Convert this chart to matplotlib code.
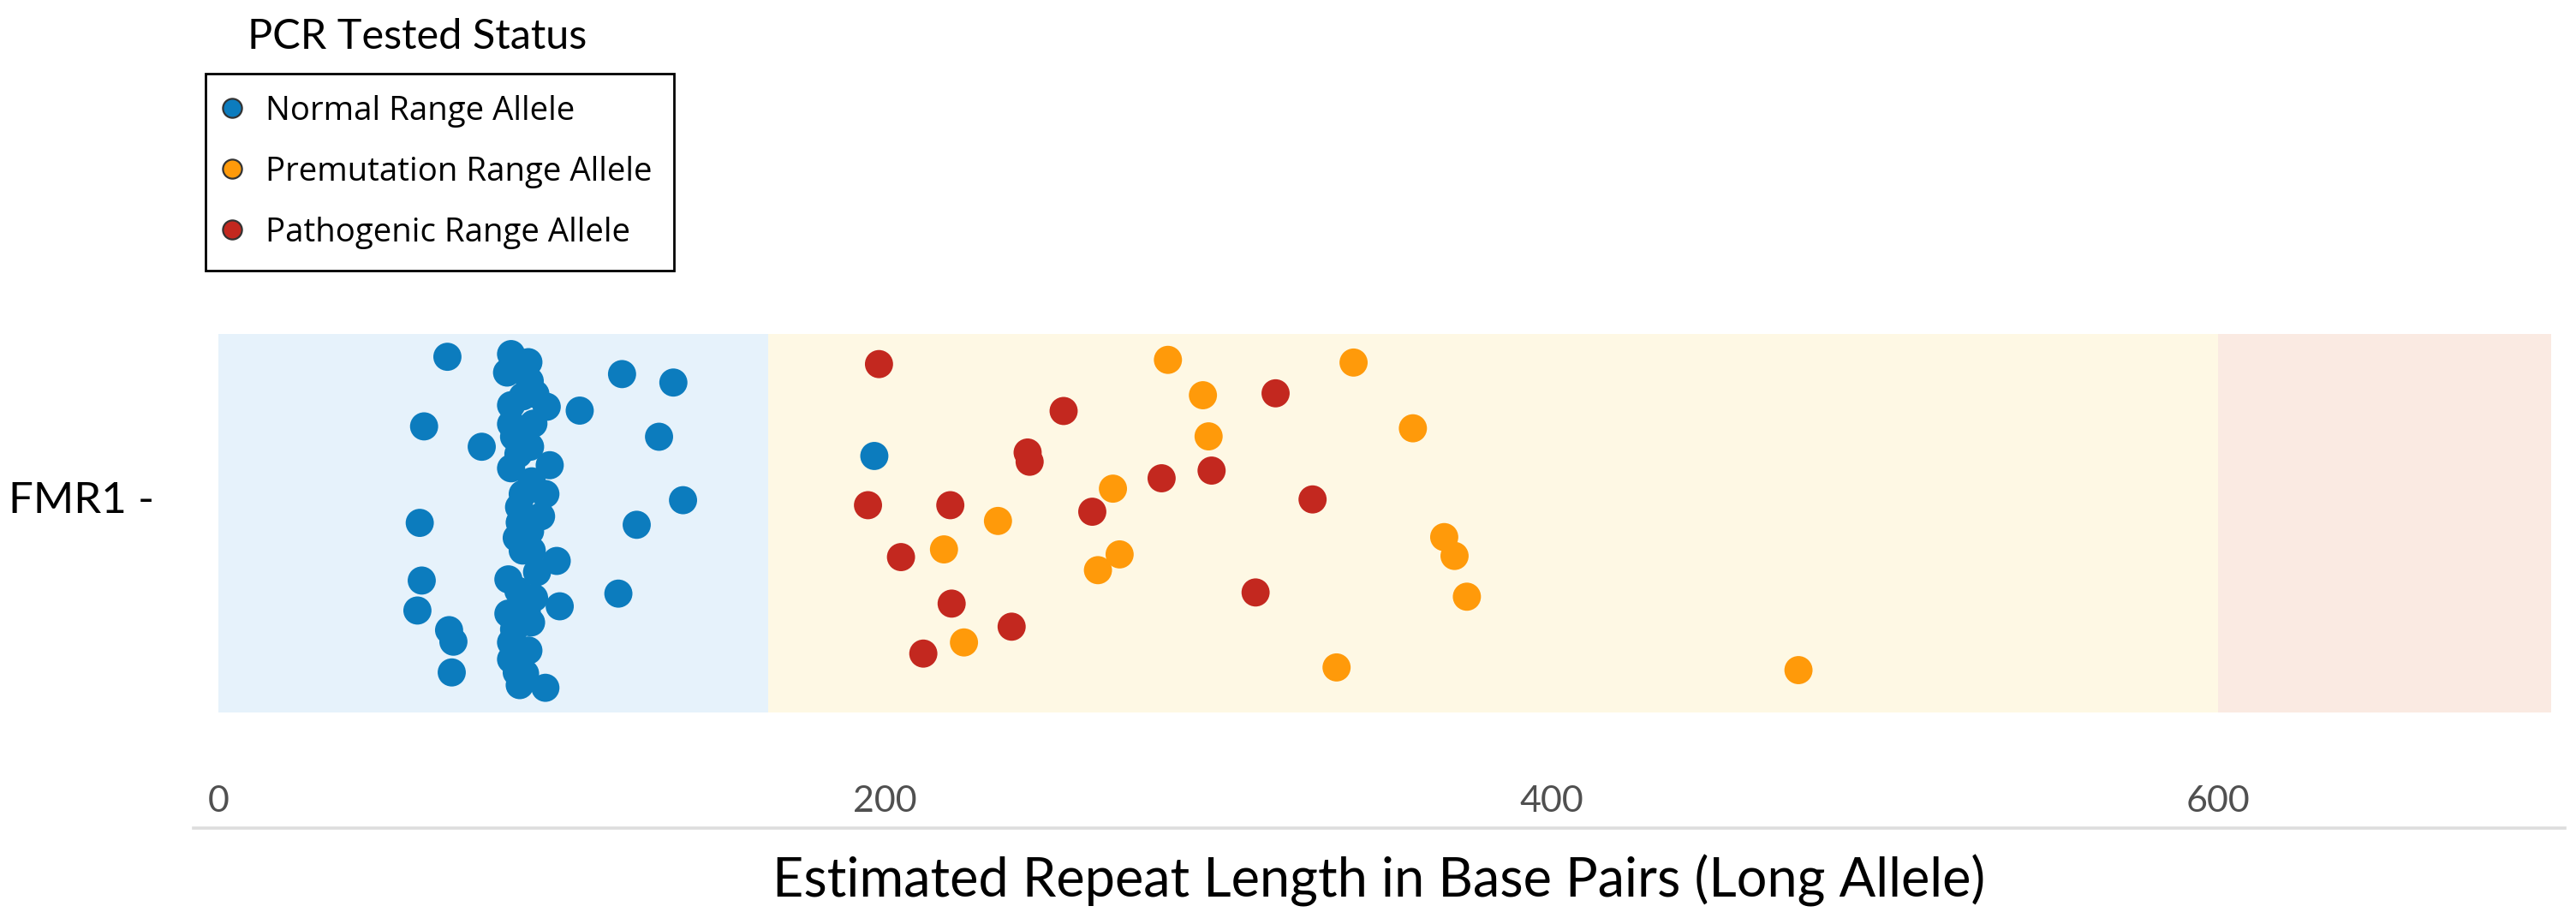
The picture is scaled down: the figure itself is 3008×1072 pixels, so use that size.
import matplotlib
matplotlib.use("Agg")
import matplotlib.pyplot as plt
from matplotlib.lines import Line2D

plt.rcParams.update({
    "font.family": ["Lato", "DejaVu Sans"],
    "font.size": 13,
})

# ── data ───────────────────────────────────────────────────────────────────
GENE = "FMR1 -"

NORMAL_X = [68.7, 121.1, 136.5, 61.7, 108.4, 132.2, 79.0, 139.4, 60.4, 125.5,
            61.0, 120.0, 59.7, 69.2, 70.5, 70.0, 196.8,
            87.8, 86.6, 93.4, 91.3, 87.8, 98.5, 87.8, 88.7, 99.4, 87.8, 90.0,
            91.3, 98.1, 90.2, 90.4, 96.8, 89.5, 91.3, 101.5, 87.0, 95.6, 102.4,
            94.7, 87.0, 93.8, 87.8, 87.8, 90.4, 98.1, 88.7, 89.5, 90.0, 95.1,
            94.5, 93.5, 94.0, 93.5, 94.0, 92.5, 93.0, 92.0, 93.0]
NORMAL_Y = [0.364, 0.319, 0.297, 0.183, 0.224, 0.156, 0.130, -0.009, -0.068, -0.073,
            -0.218, -0.252, -0.296, -0.347, -0.377, -0.457, 0.106,
            0.371, 0.323, 0.301, 0.261, 0.238, 0.234, 0.189, 0.156, 0.082, 0.074, 0.111,
            0.007, 0.007, -0.027, -0.067, -0.051, -0.107, -0.140, -0.167, -0.215, -0.196, -0.285,
            -0.263, -0.304, -0.327, -0.379, -0.423, -0.490, -0.497, -0.345, -0.457, -0.245, 0.267,
            0.190, 0.130, 0.040, -0.090, -0.140, -0.300, -0.400, -0.460, 0.350]

PREMUT_X = [284.9, 295.4, 297.1, 268.4, 233.9, 217.7, 270.4, 263.9, 223.7, 340.6,
            358.4, 367.8, 370.9, 374.6, 335.5, 474.1]
PREMUT_Y = [0.356, 0.264, 0.157, 0.021, -0.063, -0.137, -0.150, -0.191, -0.379, 0.349,
            0.178, -0.105, -0.154, -0.260, -0.444, -0.451]

PATHO_X = [198.2, 253.6, 242.8, 243.4, 194.9, 219.6, 283.0, 298.0, 262.2, 204.8,
           220.0, 238.0, 211.5, 317.2, 328.3, 311.2]
PATHO_Y = [0.345, 0.223, 0.115, 0.091, -0.022, -0.022, 0.048, 0.068, -0.039, -0.157,
           -0.278, -0.338, -0.408, 0.269, -0.007, -0.249]

GROUPS = ["Normal Range Allele", "Premutation Range Allele", "Pathogenic Range Allele"]
COLORS = ["#0C7CBE", "#FF9A0A", "#C3281F"]

BAND_EDGES = [0, 165, 600, 700]
BAND_COLORS = ["#E6F2FB", "#FEF8E4", "#FAEAE2"]

XTICKS = [0, 200, 400, 600]

# ── figure ────────────────────────────────────────────────────────────────
fig = plt.figure(figsize=(15.04, 5.36), dpi=200)
ax = fig.add_axes([0.0751, 0.0979, 0.9205, 0.557])

band_lo, band_hi = -0.561, 0.423
for x0, x1, c in zip(BAND_EDGES[:-1], BAND_EDGES[1:], BAND_COLORS):
    ax.fill_between([x0, x1], band_lo, band_hi, color=c, linewidth=0, zorder=0)

for xs, ys, c in zip([NORMAL_X, PREMUT_X, PATHO_X], [NORMAL_Y, PREMUT_Y, PATHO_Y], COLORS):
    ax.scatter(xs, ys, s=140, color=c, edgecolors="none", zorder=3)

ax.set_xlim(-7.5, 704)
ax.set_ylim(-0.862, 0.468)

ax.set_yticks([0])
ax.set_yticklabels([GENE], fontsize=18.4)
ax.tick_params(axis="y", length=0, pad=16.5)

ax.set_xticks(XTICKS)
ax.set_xticklabels([str(t) for t in XTICKS], fontsize=15.5, color="#505050")
ax.tick_params(axis="x", length=0, pad=-18)

for side in ["top", "right", "left"]:
    ax.spines[side].set_visible(False)
ax.spines["bottom"].set_color("#DDDDDD")
ax.spines["bottom"].set_linewidth(1.3)

ax.set_xlabel("Estimated Repeat Length in Base Pairs (Long Allele)", fontsize=22.7, labelpad=11)

# legend: title outside a plain black box
handles = [Line2D([], [], linestyle="none", marker="o", markersize=8,
                  markerfacecolor=c, markeredgecolor="#333333", markeredgewidth=0.8)
           for c in COLORS]
leg = fig.legend(handles, GROUPS, loc="upper left", bbox_to_anchor=(0.0798, 0.9198),
                 borderaxespad=0, frameon=True, fancybox=False, framealpha=1,
                 prop={"family": ["Open Sans", "DejaVu Sans"], "size": 13.8},
                 handlelength=0.32, handletextpad=0.86, labelspacing=0.86,
                 borderpad=0.65)
leg.get_frame().set_edgecolor("black")
leg.get_frame().set_linewidth(1.0)

fig.text(0.0961, 0.9468, "PCR Tested Status", fontsize=17.5, va="baseline", ha="left")

fig.savefig("out.png", dpi=200)
